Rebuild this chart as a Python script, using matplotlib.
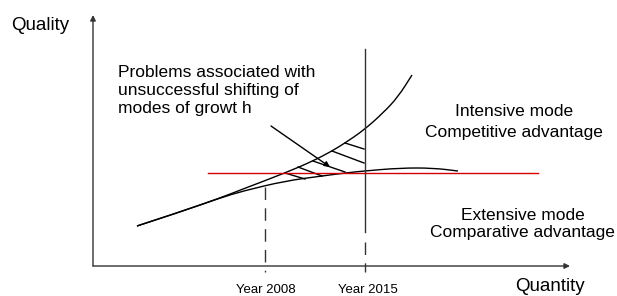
import matplotlib
matplotlib.use("Agg")
import matplotlib.pyplot as plt
from matplotlib.path import Path
from matplotlib.patches import PathPatch

plt.rcParams['font.family'] = ['Liberation Sans', 'DejaVu Sans']

# Conceptual diagram data (quantity, quality)
upper_x = [44, 87, 127, 150, 192, 220, 239, 252, 271, 290, 305, 319]
upper_y = [40, 54, 68, 77, 93, 105, 115, 123, 136, 153, 169, 191]

lower_x = [44, 87, 127, 150, 192, 229, 252, 271, 307, 340, 365]
lower_y = [40, 54, 68, 75, 85, 90, 93, 95, 98, 98, 95]

hatch_x0 = [192, 205, 220, 239, 252]
hatch_y0 = [93, 99, 105, 115, 123]
hatch_x1 = [212, 229, 252, 271, 271]
hatch_y1 = [87, 90, 94, 103, 117]

red_level = 93
red_x = [115, 445]

year_labels = ["Year 2008", "Year 2015"]
year_x = [172, 272]
year_top = [79, 217]

arrow_from = (178, 140)
arrow_to = (237, 99)

fig = plt.figure(figsize=(6.17, 2.96), dpi=100)
ax = fig.add_axes([0, 0, 1, 1])
ax.set_xlim(-93, 524)
ax.set_ylim(-30, 266)
ax.axis('off')

axc = '#333333'
lw = 1.0


def smooth_path(xs, ys):
    pts = list(zip(xs, ys))
    verts = [pts[0]]
    codes = [Path.MOVETO]
    for i in range(1, len(pts) - 1):
        mid = ((pts[i][0] + pts[i + 1][0]) / 2, (pts[i][1] + pts[i + 1][1]) / 2)
        verts += [pts[i], mid]
        codes += [Path.CURVE3, Path.CURVE3]
    verts.append(pts[-1])
    codes.append(Path.LINETO)
    return Path(verts, codes)


# axes with arrows
ax.annotate("", xy=(0, 251), xytext=(0, 0),
            arrowprops=dict(arrowstyle='-|>', lw=lw, color=axc, mutation_scale=8,
                            shrinkA=0, shrinkB=0))
ax.annotate("", xy=(477, 0), xytext=(0, 0),
            arrowprops=dict(arrowstyle='-|>', lw=lw, color=axc, mutation_scale=8,
                            shrinkA=0, shrinkB=0))

# curves
for xs, ys in [(upper_x, upper_y), (lower_x, lower_y)]:
    ax.add_patch(PathPatch(smooth_path(xs, ys), facecolor='none',
                           edgecolor='black', lw=lw))

# hatching
for x0, y0, x1, y1 in zip(hatch_x0, hatch_y0, hatch_x1, hatch_y1):
    ax.plot([x0, x1], [y0, y1], color='black', lw=lw)

# red line
ax.plot(red_x, [red_level, red_level], color='#d40000', lw=lw)

# year 2008 dashed
ax.plot([year_x[0], year_x[0]], [year_top[0], -6], color=axc, lw=lw,
        linestyle=(0, (9, 6)))
# year 2015 solid + dashed
ax.plot([year_x[1], year_x[1]], [year_top[1], 34], color=axc, lw=lw)
ax.plot([year_x[1], year_x[1]], [24, -6], color=axc, lw=lw,
        linestyle=(0, (9, 6)))

# pointer arrow
ax.annotate("", xy=arrow_to, xytext=arrow_from,
            arrowprops=dict(arrowstyle='-|>', lw=lw, color='black', mutation_scale=8,
                            shrinkA=0, shrinkB=0))

# text
ax.text(-82, 236, "Quality", fontsize=13.5, ha='left', va='baseline')
ax.text(422, -25, "Quantity", fontsize=13.5, ha='left', va='baseline')
for lab, xx in zip(year_labels, [173, 274.5]):
    ax.text(xx, -27, lab, fontsize=9.5, ha='center', va='baseline')

prob_lines = ["Problems associated with", "unsuccessful shifting of", "modes of growt h"]
for s, yb in zip(prob_lines, [189, 171, 153]):
    ax.text(25, yb, s, fontsize=12.5, ha='left', va='baseline')

ax.text(421, 150, "Intensive mode", fontsize=12.5, ha='center', va='baseline')
ax.text(420.5, 129, "Competitive advantage", fontsize=12.5, ha='center', va='baseline')
ax.text(430, 46, "Extensive mode", fontsize=12.5, ha='center', va='baseline')
ax.text(429.5, 29, "Comparative advantage", fontsize=12.5, ha='center', va='baseline')

fig.savefig("out.png", dpi=100)
